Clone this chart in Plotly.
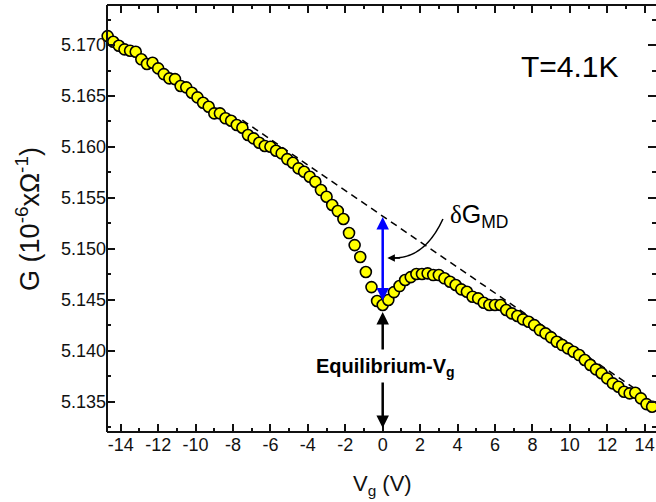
import plotly.graph_objects as go

# ---- data ----
VG = [-14.7, -14.4, -14.1, -13.8, -13.5, -13.2, -12.9, -12.6, -12.3, -12.0,
      -11.7, -11.4, -11.1, -10.8, -10.5, -10.2, -9.9, -9.6, -9.3, -9.0,
      -8.7, -8.4, -8.1, -7.8, -7.5, -7.2, -6.9, -6.6, -6.3, -6.0,
      -5.7, -5.4, -5.1, -4.8, -4.5, -4.2, -3.9, -3.6, -3.3, -3.0,
      -2.7, -2.4, -2.1, -1.8, -1.5, -1.2, -0.9, -0.6, -0.3, 0.0,
      0.3, 0.6, 0.9, 1.2, 1.5, 1.8, 2.1, 2.4, 2.7, 3.0,
      3.3, 3.6, 3.9, 4.2, 4.5, 4.8, 5.1, 5.4, 5.7, 6.0,
      6.3, 6.6, 6.9, 7.2, 7.5, 7.8, 8.1, 8.4, 8.7, 9.0,
      9.3, 9.6, 9.9, 10.2, 10.5, 10.8, 11.1, 11.4, 11.7, 12.0,
      12.3, 12.6, 12.9, 13.2, 13.5, 13.8, 14.1, 14.4, 14.7]

G = [5.17088, 5.17032, 5.16993, 5.16958, 5.16944, 5.16934, 5.16860, 5.16814, 5.16826, 5.16771,
     5.16715, 5.16673, 5.16666, 5.16598, 5.16585, 5.16532, 5.16487, 5.16434, 5.16395, 5.16330,
     5.16330, 5.16281, 5.16257, 5.16215, 5.16188, 5.16117, 5.16084, 5.16041, 5.16009, 5.16002,
     5.15963, 5.15937, 5.15881, 5.15845, 5.15790, 5.15757, 5.15708, 5.15659, 5.15577, 5.15511,
     5.15430, 5.15371, 5.15293, 5.15155, 5.15037, 5.14920, 5.14773, 5.14625, 5.14488, 5.14449,
     5.14498, 5.14576, 5.14635, 5.14694, 5.14723, 5.14753, 5.14753, 5.14760, 5.14743, 5.14743,
     5.14711, 5.14677, 5.14645, 5.14603, 5.14579, 5.14530, 5.14514, 5.14471, 5.14449, 5.14449,
     5.14449, 5.14400, 5.14367, 5.14341, 5.14308, 5.14285, 5.14252, 5.14203, 5.14171, 5.14132,
     5.14089, 5.14056, 5.14024, 5.13990, 5.13958, 5.13909, 5.13860, 5.13818, 5.13779, 5.13729,
     5.13680, 5.13647, 5.13598, 5.13582, 5.13588, 5.13533, 5.13477, 5.13451, 5.13428]

# background (linear) line: G = FIT_A + FIT_B * Vg, drawn between FIT_V ends
FIT_A = 5.15321
FIT_B = -0.001256
FIT_V = [-7.5, 13.5]

X_TICKS = [-14, -12, -10, -8, -6, -4, -2, 0, 2, 4, 6, 8, 10, 12, 14]
Y_TICKS = [5.135, 5.140, 5.145, 5.150, 5.155, 5.160, 5.165, 5.170]

# annotation anchor values
DG_TOP, DG_BOT = 5.15312, 5.14478

FONT = "Liberation Sans, Arial, sans-serif"
INK = "#111111"

fig = go.Figure()

fig.add_trace(go.Scatter(
    x=FIT_V, y=[FIT_A + FIT_B * v for v in FIT_V],
    mode="lines", line=dict(color="black", width=1.5, dash="7px,5px"),
    hoverinfo="skip", showlegend=False))

fig.add_trace(go.Scatter(
    x=VG, y=G, mode="markers",
    marker=dict(size=11, color="#FFFF00", line=dict(color="black", width=1.6)),
    cliponaxis=False, showlegend=False))

axis_common = dict(
    showline=False, mirror="allticks",
    ticks="inside", ticklen=8, tickwidth=2, tickcolor=INK,
    showgrid=False, zeroline=False,
    tickfont=dict(family=FONT, size=18, color=INK),
)

fig.update_xaxes(
    range=[-14.735, 14.607],
    tickvals=X_TICKS, ticktext=[str(t) for t in X_TICKS],
    minor=dict(ticks="inside", ticklen=4, tickwidth=2, tickcolor=INK, dtick=1),
    **axis_common)
fig.update_yaxes(
    range=[5.13203, 5.17393],
    tickvals=Y_TICKS, ticktext=[f"{t:.3f}" for t in Y_TICKS],
    minor=dict(ticks="inside", ticklen=4, tickwidth=2, tickcolor=INK, dtick=0.0025, tick0=5.135),
    **axis_common)

# frame: left, bottom, top lines (right side lies at the picture edge)
for x0, y0, x1, y1 in [(0, 0, 0, 1), (0, 0, 1.01, 0), (0, 1, 1.01, 1)]:
    fig.add_shape(type="line", xref="paper", yref="paper", x0=x0, y0=y0, x1=x1, y1=y1,
                  line=dict(color=INK, width=2), layer="above")

anns = []
# axis titles
anns.append(dict(xref="paper", yref="paper", x=-0.145, y=0.5, textangle=-90,
                 text="G (10<sup>-6</sup>xΩ<sup>-1</sup>)", showarrow=False,
                 font=dict(family=FONT, size=27, color=INK), xanchor="center", yanchor="middle"))
anns.append(dict(xref="paper", yref="paper", x=0.5027, y=-0.124,
                 text="V<sub>g</sub> (V)", showarrow=False,
                 font=dict(family=FONT, size=22, color=INK), xanchor="center", yanchor="middle"))
# temperature
anns.append(dict(xref="x", yref="y", x=10.0, y=5.16794, text="T=4.1K", showarrow=False,
                 font=dict(family=FONT, size=30, color="black"), xanchor="center", yanchor="middle"))
# delta G label
anns.append(dict(xref="x", yref="y", x=3.5, y=5.1532,
                 text="<span style=\"font-family:'Liberation Serif'\">δ</span>G<sub>MD</sub>",
                 showarrow=False, font=dict(family=FONT, size=25, color="black"),
                 xanchor="left", yanchor="middle"))
# blue double arrow
anns.append(dict(xref="x", yref="y", axref="x", ayref="y", x=0, y=DG_TOP, ax=0, ay=DG_BOT,
                 text="", showarrow=True, arrowhead=2, startarrowhead=2, arrowside="end+start",
                 arrowsize=1, startarrowsize=1, arrowwidth=2.5, arrowcolor="#0000FF", standoff=0, startstandoff=0))
# curved pointer arrowhead
anns.append(dict(xref="x", yref="y", axref="x", ayref="y", x=0.25, y=5.14910, ax=1.0, ay=5.14910,
                 text="", showarrow=True, arrowhead=2, arrowsize=1, arrowwidth=1.5, arrowcolor="black", standoff=0))
# equilibrium label and arrows
anns.append(dict(xref="x", yref="y", x=0.15, y=5.13840,
                 text="<b>Equilibrium-V<sub>g</sub></b>", showarrow=False,
                 font=dict(family=FONT, size=20, color="black"), xanchor="center", yanchor="middle"))
anns.append(dict(xref="x", yref="y", axref="x", ayref="y", x=0, y=5.14380, ax=0, ay=5.13997,
                 text="", showarrow=True, arrowhead=2, arrowsize=1, arrowwidth=2.5, arrowcolor="black", standoff=0))
anns.append(dict(xref="x", yref="y", axref="x", ayref="y", x=0, y=5.13242, ax=0, ay=5.13703,
                 text="", showarrow=True, arrowhead=2, arrowsize=1, arrowwidth=2.5, arrowcolor="black", standoff=0))

# curved connector from label to blue arrow
fig.add_shape(type="path", xref="x", yref="y",
              path="M 3.22,5.15293 Q 2.26,5.14910 0.6,5.14910",
              line=dict(color="black", width=1.5))

fig.update_layout(
    width=656, height=502,
    margin=dict(l=107, r=0, t=5, b=70),
    paper_bgcolor="white", plot_bgcolor="white",
    annotations=anns, showlegend=False,
)

fig.write_html("out.html")
